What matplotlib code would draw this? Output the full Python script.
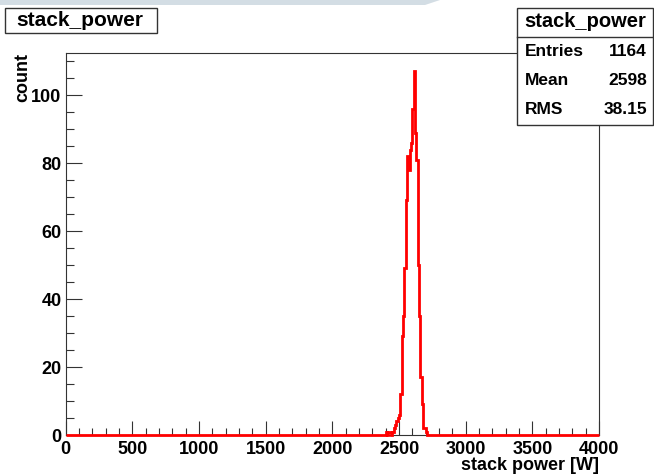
import numpy as np
import matplotlib.pyplot as plt
from matplotlib.patches import Rectangle, Polygon

plt.rcParams['font.family'] = ['Liberation Sans', 'DejaVu Sans']
plt.rcParams['font.weight'] = 'bold'

# histogram: 400 bins of 10 W from 0 to 4000, only non-empty bins listed
bin_start = [2400, 2420, 2430, 2450, 2460, 2470, 2480, 2490,
             2500, 2510, 2520, 2530, 2540, 2550, 2560, 2570,
             2580, 2590, 2600, 2610, 2620, 2630, 2640, 2650,
             2660, 2670, 2680, 2690, 2700]
bin_count = [1, 1, 1, 1, 2, 3, 4, 5,
             6, 12, 29, 35, 49, 69, 82, 78,
             84, 86, 96, 107, 89, 81, 50, 35,
             17, 9, 2, 2, 1]

stat_names = ['Entries', 'Mean', 'RMS']
stat_values = ['1164', '2598', '38.15']
hist_name = 'stack_power'

edges = np.arange(0, 4001, 10)
counts = np.zeros(len(edges) - 1)
for s, c in zip(bin_start, bin_count):
    counts[s // 10] = c

W, H = 654, 476
fig = plt.figure(figsize=(W / 100, H / 100), dpi=100)

# faint band at the very top (page background)
fig.patches.append(Polygon([(0, 1), (440 / W, 1), (425 / W, 1 - 5 / H), (0, 1 - 5 / H)],
                           closed=True, transform=fig.transFigure,
                           facecolor='#d3dde4', edgecolor='none'))

ax = fig.add_axes([65.7 / W, 41 / H, (599 - 65.7) / W, (435 - 53) / H])
ax.stairs(counts, edges, color='red', lw=2, clip_on=False, zorder=3)
ax.set_xlim(0, 4000)
ax.set_ylim(0, 112.4)

ax.set_xticks(np.arange(0, 4001, 500))
ax.set_xticks(np.arange(0, 4001, 100), minor=True)
ax.set_yticks(np.arange(0, 101, 20))
ax.set_yticks(np.arange(0, 111, 5), minor=True)
ax.tick_params(axis='x', which='major', direction='in', length=10, width=0.8, pad=4,
               labelsize=13, color='#333333')
ax.tick_params(axis='x', which='minor', direction='in', length=5, width=0.8, color='#333333')
ax.tick_params(axis='y', which='major', direction='in', length=11.5, width=0.8, pad=3,
               labelsize=13, color='#333333')
ax.tick_params(axis='y', which='minor', direction='in', length=5.8, width=0.8, color='#333333')
for lab in ax.get_xticklabels() + ax.get_yticklabels():
    lab.set_fontweight('bold')
for sp in ax.spines.values():
    sp.set_color('#333333')
    sp.set_linewidth(0.8)

fig.text(599 / W, 1 - 465 / H, 'stack power [W]', ha='right', va='center',
         fontsize=13, fontweight='bold')
fig.text(23 / W, 1 - 53 / H, 'count', rotation=90, ha='center', va='top',
         fontsize=13, fontweight='bold')

# title box
fig.patches.append(Rectangle((5 / W, 1 - 33 / H), 152 / W, 25 / H, transform=fig.transFigure,
                             facecolor='white', edgecolor='#333333', lw=1))
fig.text(80 / W, 1 - 20.5 / H, hist_name, ha='center', va='center',
         fontsize=15, fontweight='bold')

# stats box
fig.patches.append(Rectangle((517 / W, 1 - 125 / H), 136 / W, 117 / H, transform=fig.transFigure,
                             facecolor='white', edgecolor='#333333', lw=1, zorder=5))
fig.lines.append(plt.Line2D([517 / W, 653 / W], [1 - 37 / H, 1 - 37 / H],
                            transform=fig.transFigure, color='#333333', lw=1, zorder=6))
fig.text(585 / W, 1 - 21.5 / H, hist_name, ha='center', va='center',
         fontsize=14.5, fontweight='bold', zorder=7)
for i, (n, v) in enumerate(zip(stat_names, stat_values)):
    y = 1 - (51.5 + 29 * i) / H
    fig.text(525 / W, y, n, ha='left', va='center', fontsize=12.5, fontweight='bold', zorder=7)
    fig.text(647 / W, y, v, ha='right', va='center', fontsize=12.5, fontweight='bold', zorder=7)

fig.savefig('out.png', dpi=100)
